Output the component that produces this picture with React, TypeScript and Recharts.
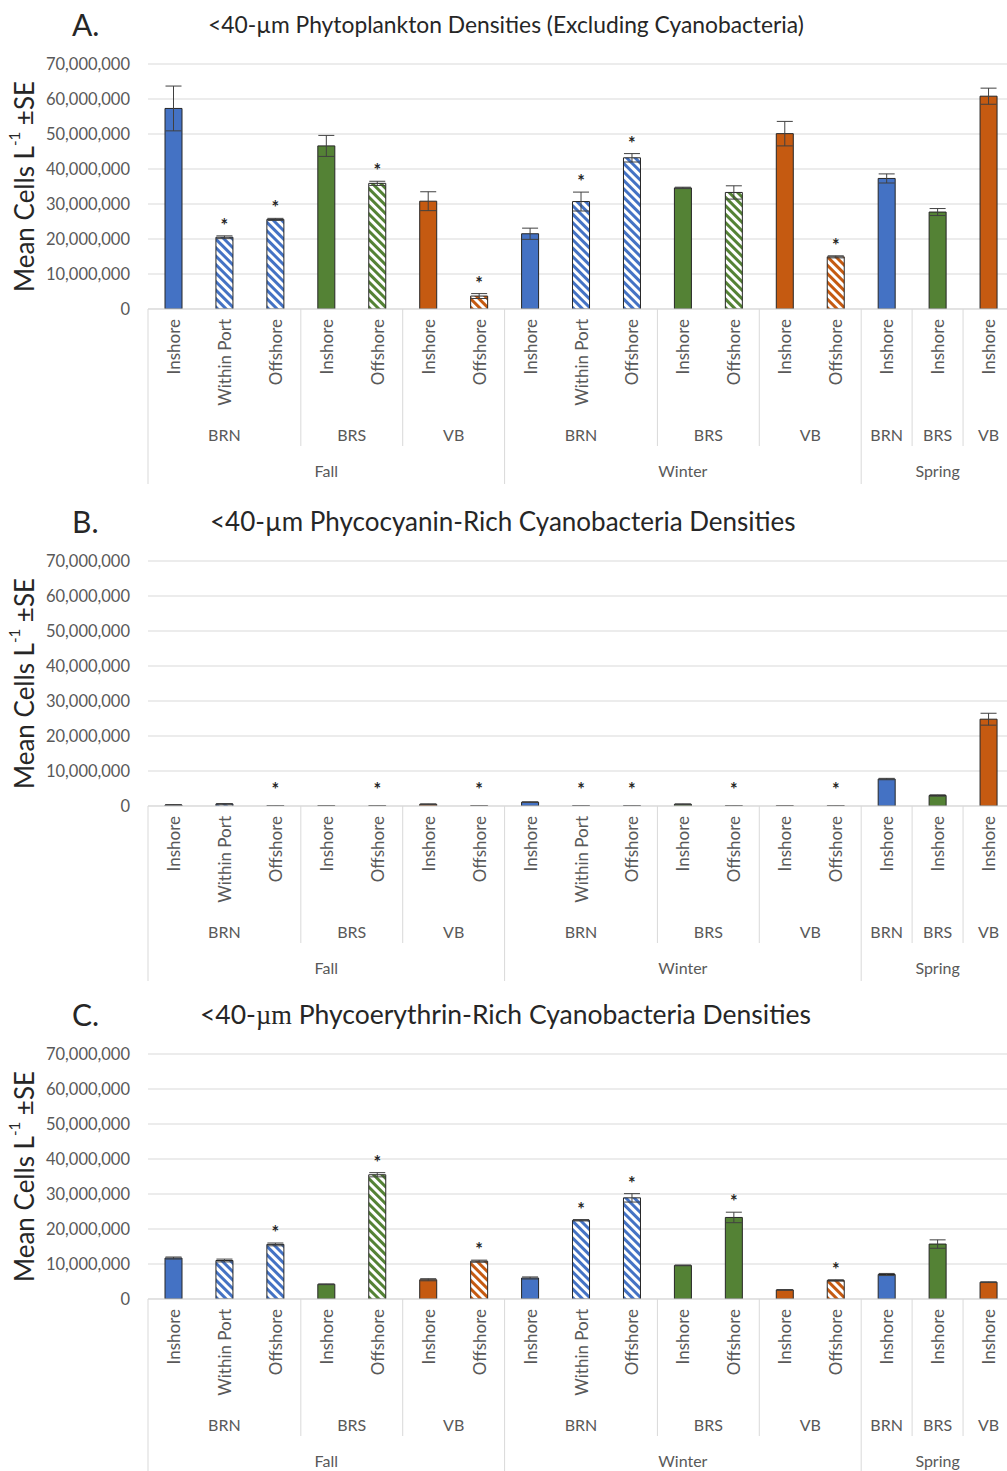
import React from 'react'
import { ComposedChart, Bar, Cell, ErrorBar, Scatter, XAxis, YAxis, CartesianGrid } from 'recharts'

// category levels (17 bars per panel)
const seasons = ['Fall', 'Fall', 'Fall', 'Fall', 'Fall', 'Fall', 'Fall', 'Winter', 'Winter', 'Winter', 'Winter', 'Winter', 'Winter', 'Winter', 'Spring', 'Spring', 'Spring']
const regions = ['BRN', 'BRN', 'BRN', 'BRS', 'BRS', 'VB', 'VB', 'BRN', 'BRN', 'BRN', 'BRS', 'BRS', 'VB', 'VB', 'BRN', 'BRS', 'VB']
const sites = ['Inshore', 'Within Port', 'Offshore', 'Inshore', 'Offshore', 'Inshore', 'Offshore', 'Inshore', 'Within Port', 'Offshore', 'Inshore', 'Offshore', 'Inshore', 'Offshore', 'Inshore', 'Inshore', 'Inshore']

const yTicks = [0, 10000000, 20000000, 30000000, 40000000, 50000000, 60000000, 70000000]

// A. phytoplankton (millions of cells per L)
const phytoMean = [57.3, 20.5, 25.6, 46.6, 35.9, 30.8, 3.7, 21.5, 30.7, 43.2, 34.6, 33.3, 50.1, 14.9, 37.3, 27.7, 60.8]
const phytoSE = [6.4, 0.4, 0.3, 3.0, 0.6, 2.7, 0.7, 1.6, 2.7, 1.2, 0.2, 1.9, 3.5, 0.3, 1.3, 1.0, 2.3]
const phytoStar = [0, 1, 1, 0, 1, 0, 1, 0, 1, 1, 0, 0, 0, 1, 0, 0, 0]
const phytoHatch = [0, 1, 1, 0, 1, 0, 1, 0, 1, 1, 0, 1, 0, 1, 0, 0, 0]

// B. phycocyanin-rich cyanobacteria
const cyanMean = [0.3, 0.6, 0.1, 0.1, 0.1, 0.5, 0.1, 1.1, 0.1, 0.1, 0.5, 0.1, 0.1, 0.1, 7.7, 3.0, 24.8]
const cyanSE = [0.1, 0.1, 0, 0, 0, 0.1, 0, 0.1, 0, 0, 0.1, 0, 0, 0, 0.2, 0.2, 1.7]
const cyanStar = [0, 0, 1, 0, 1, 0, 1, 0, 1, 1, 0, 1, 0, 1, 0, 0, 0]
const cyanHatch = [0, 1, 1, 0, 1, 0, 1, 0, 1, 1, 0, 1, 0, 1, 0, 0, 0]

// C. phycoerythrin-rich cyanobacteria
const eryMean = [11.7, 11.0, 15.6, 4.2, 35.5, 5.5, 10.8, 6.0, 22.5, 28.9, 9.6, 23.3, 2.6, 5.3, 7.0, 15.7, 4.8]
const erySE = [0.3, 0.4, 0.4, 0.1, 0.6, 0.3, 0.3, 0.3, 0.2, 1.2, 0.1, 1.5, 0.1, 0.2, 0.3, 1.2, 0.1]
const eryStar = [0, 0, 1, 0, 1, 0, 1, 0, 1, 1, 0, 1, 0, 1, 0, 0, 0]
const eryHatch = [0, 1, 1, 0, 1, 0, 1, 0, 1, 1, 0, 0, 0, 1, 0, 0, 0]

const regionColor: Record<string, string> = { BRN: '#4472C4', BRS: '#548235', VB: '#C55A11' }

const FONT = 'Lato, "Open Sans", sans-serif'
const TEXT = '#595959'
const CHART_W = 1030
const CHART_H = 486
const MARGIN = { top: 64, right: 16, left: 0, bottom: 0 }
const YAXIS_W = 148
const XAXIS_H = 177
const STEP = (CHART_W - MARGIN.left - MARGIN.right - YAXIS_W) / sites.length

function groupSize(i: number, sameGroup: (a: number, b: number) => boolean) {
  let n = 1
  while (i + n < sites.length && sameGroup(i, i + n)) n++
  return n
}

const sameRegion = (a: number, b: number) => regions[a] === regions[b] && seasons[a] === seasons[b]
const sameSeason = (a: number, b: number) => seasons[a] === seasons[b]

function CategoryTick(props: any) {
  const { x, y, index } = props
  const i = index
  const regionStart = i === 0 || !sameRegion(i - 1, i)
  const seasonStart = i === 0 || !sameSeason(i - 1, i)
  const nReg = regionStart ? groupSize(i, sameRegion) : 0
  const nSea = seasonStart ? groupSize(i, sameSeason) : 0
  return (
    <g>
      <text
        transform={`translate(${x},${y + 10}) rotate(-90)`}
        textAnchor="end"
        dominantBaseline="central"
        fontSize={17}
        fontFamily={FONT}
        fill={TEXT}
      >
        {sites[i]}
      </text>
      {regionStart && (
        <line x1={x - STEP / 2} x2={x - STEP / 2} y1={y} y2={y + (seasonStart ? 175 : 137)} stroke="#d9d9d9" />
      )}
      {regionStart && (
        <text x={x + ((nReg - 1) * STEP) / 2} y={y + 125} textAnchor="middle" dominantBaseline="central" fontSize={16} fontFamily={FONT} fill={TEXT}>
          {regions[i]}
        </text>
      )}
      {seasonStart && (
        <text x={x + ((nSea - 1) * STEP) / 2} y={y + 161} textAnchor="middle" dominantBaseline="central" fontSize={16} fontFamily={FONT} fill={TEXT}>
          {seasons[i]}
        </text>
      )}
    </g>
  )
}

function Star(props: any) {
  const { cx, cy, payload } = props
  if (!payload || !payload.star || !isFinite(cx) || !isFinite(cy)) return <g />
  return (
    <text x={cx} y={cy - 4} textAnchor="middle" fontSize={18} fontWeight="bold" fontFamily={FONT} fill="#262626">
      *
    </text>
  )
}

function YTitle(props: any) {
  const vb = props.viewBox || { y: 64, height: 245 }
  const cy = vb.y + vb.height / 2
  return (
    <text transform={`translate(24,${cy}) rotate(-90)`} textAnchor="middle" dominantBaseline="central" fontSize={26} fontFamily={FONT} fill="#262626">
      Mean Cells L<tspan dy={-10} fontSize={15}>-1</tspan>
      <tspan dy={10}> ±SE</tspan>
    </text>
  )
}

interface PanelProps {
  top: number
  letter: string
  title: React.ReactNode
  titleLeft: number
  titleSize: number
  mean: number[]
  se: number[]
  star: number[]
  hatch: number[]
  starFloor: number
}

function Panel({ top, letter, title, titleLeft, titleSize, mean, se, star, hatch, starFloor }: PanelProps) {
  const data = sites.map((s, i) => ({
    site: s,
    value: mean[i] * 1e6,
    se: se[i] * 1e6,
    star: star[i] === 1,
    starY: star[i] === 1 ? Math.max(mean[i] + se[i], starFloor) * 1e6 : null,
  }))
  return (
    <div style={{ position: 'absolute', left: 0, top, width: CHART_W, height: CHART_H }}>
      <div style={{ position: 'absolute', left: 72, top: 6, fontSize: 30, fontFamily: FONT, color: '#262626' }}>{letter}</div>
      <div
        style={{
          position: 'absolute',
          left: titleLeft,
          top: 24 - titleSize * 0.62,
          fontSize: titleSize,
          fontFamily: FONT,
          color: '#262626',
          whiteSpace: 'nowrap',
        }}
      >
        {title}
      </div>
      <ComposedChart width={CHART_W} height={CHART_H} data={data} margin={MARGIN}>
        <defs>
          {Object.keys(regionColor).map((r) => (
            <pattern key={r} id={`hatch-${letter}-${r}`} patternUnits="userSpaceOnUse" width={6} height={6} patternTransform="rotate(-45)">
              <rect width={6} height={6} fill="#ffffff" />
              <rect width={3} height={6} fill={regionColor[r]} />
            </pattern>
          ))}
        </defs>
        <CartesianGrid vertical={false} stroke="#d9d9d9" />
        <XAxis
          dataKey="site"
          interval={0}
          height={XAXIS_H}
          tickLine={false}
          tickSize={0}
          tickMargin={0}
          stroke="#d9d9d9"
          tick={<CategoryTick />}
        />
        <YAxis
          width={YAXIS_W}
          domain={[0, 70000000]}
          ticks={yTicks}
          allowDataOverflow
          axisLine={false}
          tickLine={false}
          tickSize={10}
          tickMargin={8}
          tickFormatter={(v: number) => v.toLocaleString('en-US')}
          tick={{ fontSize: 16.5, fontFamily: FONT, fill: TEXT }}
          label={{ content: <YTitle /> }}
        />
        <Bar dataKey="value" barSize={17} isAnimationActive={false}>
          {data.map((d, i) => (
            <Cell
              key={i}
              fill={hatch[i] === 1 ? `url(#hatch-${letter}-${regions[i]})` : regionColor[regions[i]]}
              stroke="#262626"
              strokeWidth={1}
            />
          ))}
          <ErrorBar dataKey="se" width={8} stroke="#404040" strokeWidth={1} direction="y" />
        </Bar>
        <Scatter dataKey="starY" shape={<Star />} isAnimationActive={false} />
      </ComposedChart>
    </div>
  )
}

export default function App() {
  return (
    <div style={{ position: 'absolute', left: 0, top: 0, width: 1007, height: 1471, overflow: 'hidden', background: '#ffffff' }}>
      <Panel
        top={0}
        letter="A."
        title="<40-µm Phytoplankton Densities (Excluding Cyanobacteria)"
        titleLeft={208}
        titleSize={22.8}
        mean={phytoMean}
        se={phytoSE}
        star={phytoStar}
        hatch={phytoHatch}
        starFloor={0}
      />
      <Panel
        top={497}
        letter="B."
        title="<40-µm Phycocyanin-Rich Cyanobacteria Densities"
        titleLeft={210}
        titleSize={26}
        mean={cyanMean}
        se={cyanSE}
        star={cyanStar}
        hatch={cyanHatch}
        starFloor={1.7}
      />
      <Panel
        top={990}
        letter="C."
        title={
          <span>
            {'<40-'}
            <span style={{ fontFamily: '"Liberation Serif", serif' }}>µm</span>
            {' Phycoerythrin-Rich Cyanobacteria Densities'}
          </span>
        }
        titleLeft={200}
        titleSize={26.5}
        mean={eryMean}
        se={erySE}
        star={eryStar}
        hatch={eryHatch}
        starFloor={0}
      />
    </div>
  )
}
